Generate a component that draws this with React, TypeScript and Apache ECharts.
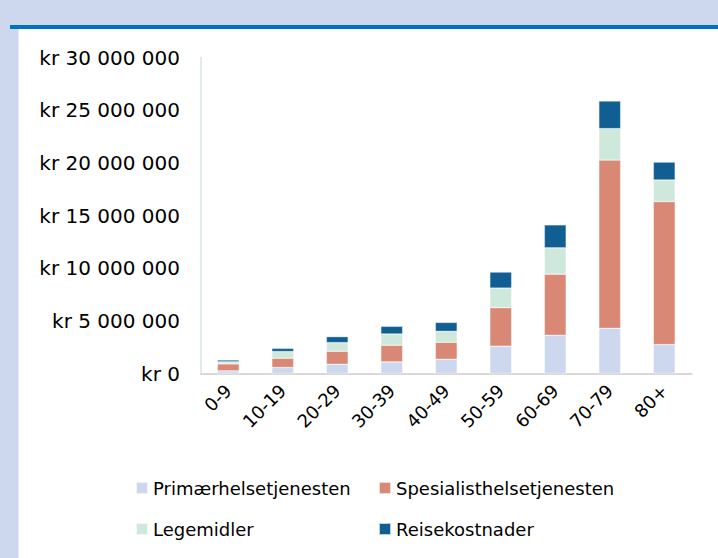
import React, { useEffect, useRef } from "react";
import * as echarts from "echarts";

const categories = ["0-9", "10-19", "20-29", "30-39", "40-49", "50-59", "60-69", "70-79", "80+"];
const primaer = [250000, 570000, 880000, 1100000, 1350000, 2590000, 3630000, 4290000, 2750000];
const spesialist = [660000, 880000, 1230000, 1580000, 1610000, 3660000, 5800000, 15970000, 13570000];
const legemidler = [200000, 630000, 820000, 1070000, 1040000, 1860000, 2500000, 2990000, 2050000];
const reise = [170000, 310000, 570000, 730000, 850000, 1520000, 2180000, 2620000, 1700000];
const seriesNames = ["Primærhelsetjenesten", "Spesialisthelsetjenesten", "Legemidler", "Reisekostnader"];
const colors = ["#cdd8ef", "#d88874", "#cfe8dc", "#115f92"];

const FONT = "DejaVu Sans";

function fmt(v: number): string {
  const s = Math.round(v).toString().replace(/\B(?=(\d{3})+(?!\d))/g, " ");
  return "kr " + s;
}

export default function App() {
  const ref = useRef<HTMLDivElement>(null);
  useEffect(() => {
    if (!ref.current) return;
    const chart = echarts.init(ref.current, undefined, { renderer: "svg" });
    const data = [primaer, spesialist, legemidler, reise];
    const legendText = { fontFamily: FONT, fontSize: 18, color: "#000000", lineHeight: 18 };
    chart.setOption({
      animation: false,
      backgroundColor: "#cdd7ee",
      color: colors,
      graphic: [
        { type: "rect", shape: { x: 18.5, y: 29, width: 700, height: 530 }, style: { fill: "#ffffff" }, silent: true, z: -10 },
        { type: "rect", shape: { x: 10, y: 25, width: 708, height: 4 }, style: { fill: "#0070c0" }, silent: true, z: -10 },
      ],
      grid: { left: 201, right: 26.5, top: 57.5, bottom: 184.5, containLabel: false },
      legend: [
        {
          data: [seriesNames[0], seriesNames[2]],
          orient: "vertical",
          left: 130,
          top: 474,
          itemWidth: 12,
          itemHeight: 12,
          itemGap: 23,
          icon: "rect",
          textStyle: legendText,
        },
        {
          data: [seriesNames[1], seriesNames[3]],
          orient: "vertical",
          left: 373,
          top: 474,
          itemWidth: 12,
          itemHeight: 12,
          itemGap: 23,
          icon: "rect",
          textStyle: legendText,
        },
      ],
      xAxis: {
        type: "category",
        data: categories,
        axisLine: { show: true, lineStyle: { color: "#d9d9d9", width: 2 } },
        axisTick: { show: false },
        axisLabel: {
          rotate: 45,
          margin: 14,
          fontFamily: FONT,
          fontSize: 18,
          color: "#000000",
          interval: 0,
        },
      },
      yAxis: {
        type: "value",
        min: 0,
        max: 30000000,
        interval: 5000000,
        axisLine: { show: true, lineStyle: { color: "#d3e8de", width: 1.5 } },
        axisTick: { show: false },
        splitLine: { show: false },
        axisLabel: {
          margin: 21,
          fontFamily: FONT,
          fontSize: 20,
          color: "#000000",
          formatter: (v: number) => fmt(v),
        },
      },
      series: seriesNames.map((name, i) => ({
        name,
        type: "bar",
        stack: "total",
        barWidth: "40%",
        data: data[i],
        itemStyle: { color: colors[i], borderColor: "rgba(255,255,255,0.7)", borderWidth: 0.5 },
      })),
    });
    return () => chart.dispose();
  }, []);
  return <div ref={ref} style={{ position: "absolute", left: 0, top: 0, width: 718, height: 558 }} />;
}
